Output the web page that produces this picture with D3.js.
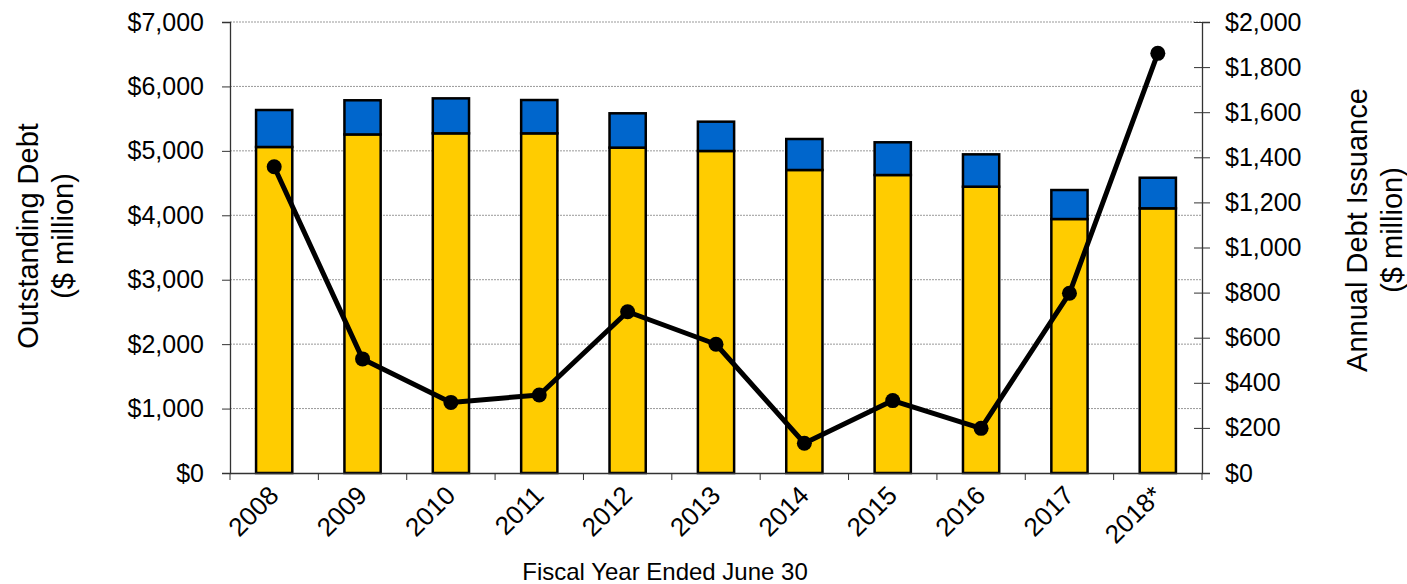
<!DOCTYPE html>
<html>
<head>
<meta charset="utf-8">
<script src="https://cdn.jsdelivr.net/npm/d3@7"></script>
<style>
	body { margin: 0; background: #fff; }
	svg { font-family: "Liberation Sans", Arial, sans-serif; }
</style>
</head>
<body>
<svg id="chart" width="1407" height="584"></svg>
<script>

// fiscal years and values ($ million)
var years = ["2008", "2009", "2010", "2011", "2012", "2013", "2014", "2015",
			"2016", "2017", "2018*"];
var baseDebt = [5060, 5255, 5272, 5272, 5050, 4998, 4703, 4625, 4444, 3942, 4108];
var otherDebt = [574, 530, 543, 517, 533, 455, 481, 508, 502, 450, 475];
var issuance = [1358, 506, 313, 346, 715, 571, 132, 321, 198, 797, 1861];

var leftTicks = [0, 1000, 2000, 3000, 4000, 5000, 6000, 7000];
var rightTicks = [0, 200, 400, 600, 800, 1000, 1200, 1400, 1600, 1800, 2000];

var plotLeft = 230, plotRight = 1202, plotTop = 22, plotBottom = 473;

var svg = d3.select("#chart");

var x = d3.scaleBand()
			.domain(years)
			.range([plotLeft, plotRight]);

var yLeft = d3.scaleLinear()
			.domain([0, 7000])
			.range([plotBottom, plotTop]);

var yRight = d3.scaleLinear()
			.domain([0, 2000])
			.range([plotBottom, plotTop]);

var fmt = function(d) { return "$" + d3.format(",")(d); };

// dotted gridlines
svg.append("g")
	.selectAll("line")
	.data(leftTicks.slice(1))
	.enter().append("line")
	.attr("x1", plotLeft)
	.attr("x2", plotRight)
	.attr("y1", function(d) { return yLeft(d); })
	.attr("y2", function(d) { return yLeft(d); })
	.style("stroke", "#999")
	.style("stroke-width", 1)
	.style("stroke-dasharray", "2,1");

// stacked bars
var barW = x.bandwidth() * 0.41;
var bars = svg.append("g");

bars.selectAll(".base")
	.data(years)
	.enter().append("rect")
	.attr("x", function(d) { return x(d) + (x.bandwidth() - barW) / 2; })
	.attr("width", barW)
	.attr("y", function(d, i) { return yLeft(baseDebt[i]); })
	.attr("height", function(d, i) { return yLeft(0) - yLeft(baseDebt[i]); })
	.style("fill", "#FFCC00")
	.style("stroke", "#000")
	.style("stroke-width", 2.5);

bars.selectAll(".other")
	.data(years)
	.enter().append("rect")
	.attr("x", function(d) { return x(d) + (x.bandwidth() - barW) / 2; })
	.attr("width", barW)
	.attr("y", function(d, i) { return yLeft(baseDebt[i] + otherDebt[i]); })
	.attr("height", function(d, i) {
		return yLeft(baseDebt[i]) - yLeft(baseDebt[i] + otherDebt[i]); })
	.style("fill", "#0066CC")
	.style("stroke", "#000")
	.style("stroke-width", 2.5);

// axes
var leftAxis = svg.append("g")
				.attr("transform", "translate(" + plotLeft + ",0)")
				.call(d3.axisLeft(yLeft).tickValues(leftTicks)
						.tickFormat(fmt).tickSize(8).tickPadding(18));

var rightAxis = svg.append("g")
				.attr("transform", "translate(" + plotRight + ",0)")
				.call(d3.axisRight(yRight).tickValues(rightTicks)
						.tickFormat(fmt).tickSize(8).tickPadding(15));

rightAxis.selectAll(".tick")
	.append("line")
	.attr("x1", -8)
	.attr("x2", 0)
	.style("stroke", "#333");

var bottomAxis = svg.append("g")
				.attr("transform", "translate(0," + plotBottom + ")")
				.call(d3.axisBottom(x).tickSize(0).tickFormat(""));

// ticks between categories
bottomAxis.selectAll(".sep")
	.data(years.concat(["end"]))
	.enter().append("line")
	.attr("x1", function(d, i) { return plotLeft + i * x.step(); })
	.attr("x2", function(d, i) { return plotLeft + i * x.step(); })
	.attr("y1", 0)
	.attr("y2", 7)
	.style("stroke", "#333");

[leftAxis, rightAxis, bottomAxis].forEach(function(a) {
	a.selectAll("path").style("stroke", "#333").style("stroke-width", 1.3);
	a.selectAll(".tick line").style("stroke", "#333");
	a.selectAll("text")
		.style("font-size", "25px")
		.style("fill", "#000")
		.style("font-family", "Liberation Sans, Arial, sans-serif");
});

// rotated year labels
svg.append("g")
	.selectAll("text")
	.data(years)
	.enter().append("text")
	.attr("transform", function(d) {
		return "translate(" + (x(d) + x.bandwidth() / 2 + 6) + ",497) rotate(-45)"; })
	.attr("text-anchor", "end")
	.style("font-size", "26px")
	.text(function(d) { return d; });

// issuance line
var line = d3.line()
			.x(function(d, i) { return x(years[i]) + x.bandwidth() / 2; })
			.y(function(d) { return yRight(d); });

svg.append("path")
	.datum(issuance)
	.attr("d", line)
	.style("fill", "none")
	.style("stroke", "#000")
	.style("stroke-width", 5)
	.style("stroke-linejoin", "round");

svg.append("g")
	.selectAll("circle")
	.data(issuance)
	.enter().append("circle")
	.attr("cx", function(d, i) { return x(years[i]) + x.bandwidth() / 2; })
	.attr("cy", function(d) { return yRight(d); })
	.attr("r", 7.5)
	.style("fill", "#000");

// axis titles
var leftTitle = svg.append("text")
				.attr("transform", "translate(38,236) rotate(-90)")
				.attr("text-anchor", "middle")
				.style("font-size", "29px");
leftTitle.append("tspan").attr("x", 0).attr("dy", 0).text("Outstanding Debt");
leftTitle.append("tspan").attr("x", 0).attr("dy", 35).text("($ million)");

var rightTitle = svg.append("text")
				.attr("transform", "translate(1367,230) rotate(-90)")
				.attr("text-anchor", "middle")
				.style("font-size", "29px");
rightTitle.append("tspan").attr("x", 0).attr("dy", 0).text("Annual Debt Issuance");
rightTitle.append("tspan").attr("x", 0).attr("dy", 35).text("($ million)");

svg.append("text")
	.attr("x", 665)
	.attr("y", 580)
	.attr("text-anchor", "middle")
	.style("font-size", "24px")
	.text("Fiscal Year Ended June 30");

</script>
</body>
</html>
